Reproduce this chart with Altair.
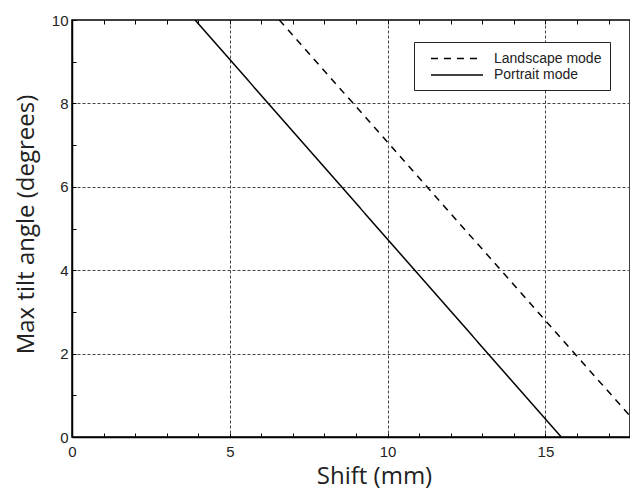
import altair as alt
import pandas as pd

# ---- data ----
series = ["Landscape mode", "Landscape mode", "Portrait mode", "Portrait mode"]
shift_mm = [6.57, 17.8, 3.9, 15.5]
tilt_deg = [10.0, 0.4, 10.0, 0.0]

x_major = [0, 5, 10, 15]
x_minor = list(range(0, 18))
y_major = [0, 2, 4, 6, 8, 10]
y_minor = list(range(0, 11))
legend_order = ["Landscape mode", "Portrait mode"]

df = pd.DataFrame({"series": series, "shift": shift_mm, "angle": tilt_deg})

W, H = 558, 417
xscale = alt.Scale(domain=[0, 17.68], nice=False, zero=False)
yscale = alt.Scale(domain=[0, 10], nice=False, zero=False)

LABEL_FONT = "Liberation Sans"
TITLE_FONT = "Open Sans"

base = alt.Chart(df)

lines = base.mark_line(color="black", strokeWidth=1.5, clip=True).encode(
    x=alt.X(
        "shift:Q",
        scale=xscale,
        axis=alt.Axis(
            orient="bottom",
            values=x_major,
            title="Shift (mm)",
            titleFont=TITLE_FONT,
            titleFontSize=24,
            titleFontWeight="normal",
            titleColor="#222",
            titleX=302,
            titleY=46,
            titleBaseline="alphabetic",
            titleAlign="center",
            labelFont=LABEL_FONT,
            labelFontSize=15,
            labelColor="#222",
            labelPadding=7,
            ticks=False,
            tickSize=0,
            domain=True,
            domainColor="black",
            domainWidth=1.5,
            grid=True,
            gridColor="#444",
            gridDash=[3, 2],
            gridWidth=1,
            gridOpacity={"condition": {"test": "datum.value > 0", "value": 1}, "value": 0},
            labelFlush=False,
            labelOverlap=False,
        ),
    ),
    y=alt.Y(
        "angle:Q",
        scale=yscale,
        axis=alt.Axis(
            orient="left",
            values=y_major,
            title="Max tilt angle (degrees)",
            titleFont=TITLE_FONT,
            titleFontSize=24,
            titleFontWeight="normal",
            titleColor="#222",
            titleX=-39,
            titleY=204,
            titleBaseline="alphabetic",
            titleAlign="center",
            labelFont=LABEL_FONT,
            labelFontSize=15,
            labelColor="#222",
            labelPadding=4,
            ticks=False,
            tickSize=0,
            domain=True,
            domainColor="black",
            domainWidth=1.5,
            grid=True,
            gridColor="#444",
            gridDash=[3, 2],
            gridWidth=1,
            gridOpacity={"condition": {"test": "datum.value > 0 && datum.value < 10", "value": 1}, "value": 0},
            labelFlush=False,
            labelOverlap=False,
        ),
    ),
    strokeDash=alt.StrokeDash(
        "series:N",
        scale=alt.Scale(domain=legend_order, range=[[7, 6], [1, 0]]),
        legend=alt.Legend(
            title=None,
            orient="none",
            legendX=342,
            legendY=22,
            direction="vertical",
            fillColor="white",
            strokeColor="#222",
            padding=8,
            symbolType="M-3.47,0H3.47",
            symbolFillColor="transparent",
            symbolStrokeColor="black",
            symbolStrokeWidth=1.5,
            symbolSize=225,
            symbolOffset=26.5,
            labelFont=LABEL_FONT,
            labelFontSize=14,
            labelColor="#222",
            labelOffset=28.5,
            rowPadding=0.5,
        ),
    ),
)

# inward minor ticks on bottom and left edges
ticks_bl = base.mark_point(opacity=0).encode(
    x=alt.X(
        "shift:Q",
        scale=xscale,
        axis=alt.Axis(orient="top", offset=-H, values=x_minor, labels=False,
                      domain=False, grid=False, ticks=True, tickSize=4,
                      tickColor="black", tickWidth=1, title=None),
    ),
    y=alt.Y(
        "angle:Q",
        scale=yscale,
        axis=alt.Axis(orient="right", offset=-W, values=y_minor, labels=False,
                      domain=False, grid=False, ticks=True, tickSize=4,
                      tickColor="black", tickWidth=1, title=None),
    ),
)

# inward minor ticks on top edge
ticks_top = base.mark_point(opacity=0).encode(
    x=alt.X(
        "shift:Q",
        scale=xscale,
        axis=alt.Axis(orient="bottom", offset=-H, values=x_minor, labels=False,
                      domain=False, grid=False, ticks=True, tickSize=4,
                      tickColor="black", tickWidth=1, title=None),
    ),
    y=alt.Y("angle:Q", scale=yscale, axis=None),
)

chart = (
    alt.layer(lines, ticks_bl, ticks_top)
    .resolve_axis(x="independent", y="independent")
    .properties(
        width=W,
        height=H,
        padding={"left": 64, "top": 12, "right": 0, "bottom": 52},
        autosize=alt.AutoSizeParams(type="none"),
        background="white",
    )
    .configure_view(stroke="black", strokeWidth=1.5)
)

chart.save("out.html", embed_options={"renderer": "svg", "actions": False})
